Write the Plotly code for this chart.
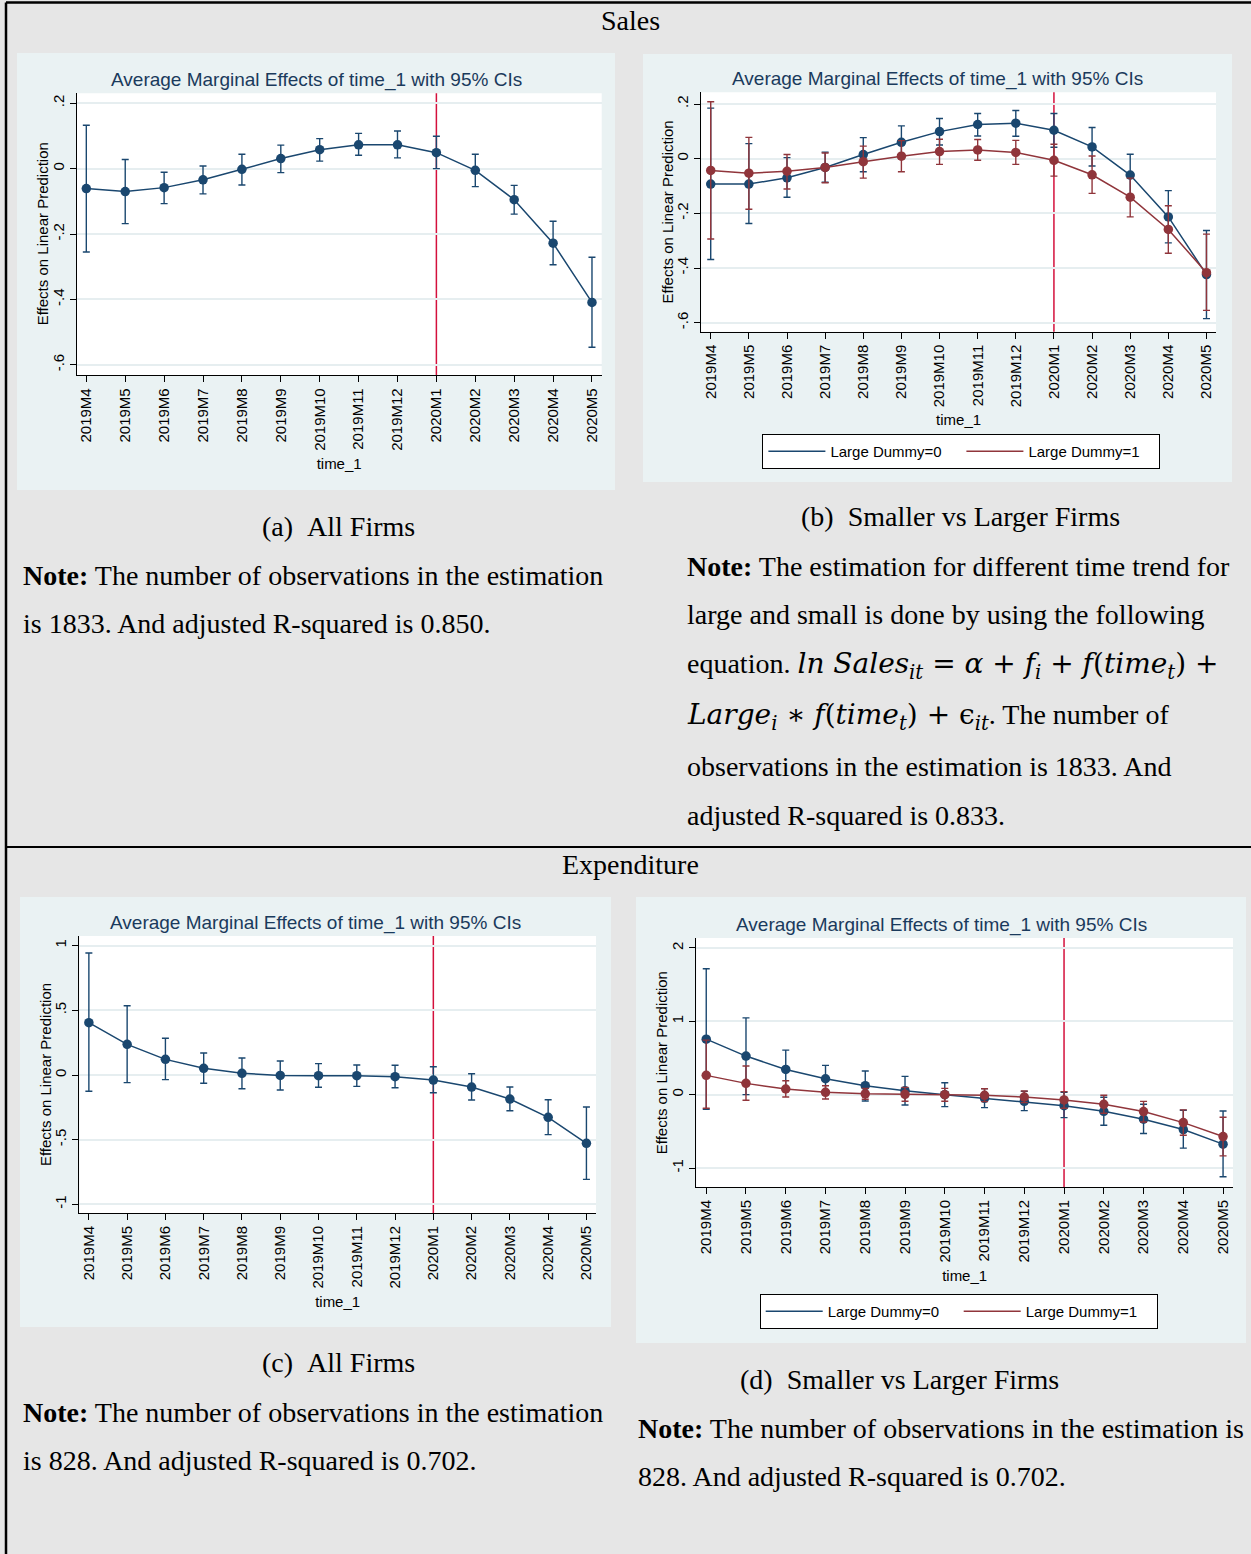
import plotly.graph_objects as go

W, H = 1251, 1554

months = ["2019M4", "2019M5", "2019M6", "2019M7", "2019M8", "2019M9", "2019M10",
          "2019M11", "2019M12", "2020M1", "2020M2", "2020M3", "2020M4", "2020M5"]
event_month = "2020M1"

# (a) Sales, all firms
sales_all = [-0.061, -0.070, -0.058, -0.034, -0.002, 0.031, 0.058, 0.073, 0.073, 0.049, -0.005, -0.095, -0.228, -0.409]
sales_all_hi = [0.133, 0.028, -0.011, 0.008, 0.044, 0.072, 0.092, 0.108, 0.115, 0.099, 0.044, -0.051, -0.161, -0.271]
sales_all_lo = [-0.255, -0.168, -0.107, -0.077, -0.050, -0.012, 0.023, 0.041, 0.033, 0.000, -0.055, -0.139, -0.294, -0.546]

# (b) Sales, Large Dummy = 0 / 1
sales_d0 = [-0.093, -0.093, -0.070, -0.032, 0.015, 0.060, 0.099, 0.125, 0.130, 0.104, 0.043, -0.060, -0.213, -0.424]
sales_d0_hi = [0.185, 0.055, 0.004, 0.024, 0.077, 0.120, 0.147, 0.165, 0.176, 0.165, 0.114, 0.016, -0.117, -0.263]
sales_d0_lo = [-0.369, -0.237, -0.141, -0.086, -0.048, 0.000, 0.050, 0.083, 0.082, 0.042, -0.027, -0.136, -0.308, -0.585]
sales_d1 = [-0.043, -0.053, -0.046, -0.032, -0.011, 0.009, 0.026, 0.032, 0.023, -0.006, -0.059, -0.141, -0.259, -0.417]
sales_d1_hi = [0.208, 0.078, 0.015, 0.021, 0.046, 0.066, 0.071, 0.070, 0.067, 0.053, 0.010, -0.071, -0.172, -0.276]
sales_d1_lo = [-0.294, -0.185, -0.111, -0.088, -0.071, -0.048, -0.021, -0.006, -0.021, -0.064, -0.127, -0.213, -0.346, -0.555]

# (c) Expenditure, all firms
exp_all = [0.405, 0.237, 0.121, 0.052, 0.013, -0.003, -0.005, -0.005, -0.013, -0.039, -0.093, -0.186, -0.327, -0.528]
exp_all_hi = [0.943, 0.536, 0.284, 0.170, 0.131, 0.108, 0.088, 0.077, 0.075, 0.064, 0.010, -0.093, -0.191, -0.247]
exp_all_lo = [-0.126, -0.059, -0.036, -0.064, -0.106, -0.116, -0.095, -0.088, -0.098, -0.137, -0.193, -0.276, -0.461, -0.807]

# (d) Expenditure, Large Dummy = 0 / 1
exp_d0 = [0.757, 0.526, 0.344, 0.217, 0.122, 0.054, 0.000, -0.050, -0.091, -0.150, -0.227, -0.335, -0.476, -0.675]
exp_d0_hi = [1.717, 1.047, 0.607, 0.399, 0.322, 0.249, 0.163, 0.082, 0.045, 0.032, -0.036, -0.131, -0.213, -0.222]
exp_d0_lo = [-0.199, 0.000, 0.080, 0.035, -0.086, -0.140, -0.163, -0.177, -0.217, -0.313, -0.417, -0.530, -0.729, -1.119]
exp_d1 = [0.263, 0.154, 0.077, 0.032, 0.012, 0.005, 0.000, -0.009, -0.032, -0.072, -0.131, -0.231, -0.381, -0.571]
exp_d1_hi = [0.743, 0.390, 0.190, 0.122, 0.086, 0.100, 0.086, 0.080, 0.050, 0.041, -0.009, -0.091, -0.208, -0.308]
exp_d1_lo = [-0.186, -0.077, -0.032, -0.059, -0.062, -0.090, -0.090, -0.095, -0.109, -0.186, -0.254, -0.372, -0.553, -0.834]

ticks_sales = [0.2, 0, -0.2, -0.4, -0.6]
ticktext_sales = [".2", "0", "-.2", "-.4", "-.6"]
ticks_exp_all = [1, 0.5, 0, -0.5, -1]
ticktext_exp_all = ["1", ".5", "0", "-.5", "-1"]
ticks_exp_grp = [2, 1, 0, -1]
ticktext_exp_grp = ["2", "1", "0", "-1"]

series_names = ["Large Dummy=0", "Large Dummy=1"]
plot_title = "Average Marginal Effects of time_1 with 95% CIs"
x_title = "time_1"
y_title = "Effects on Linear Prediction"

NAVY = "#1a476f"
MAROON = "#90353b"
VLINE = "#d4103c"
PAGE_BG = "#e6e6e6"
BOX_BG = "#eaf2f3"
GRID = "#e6eef0"
SANS = "Liberation Sans, Arial, sans-serif"
SERIF = "Liberation Serif, Times New Roman, serif"


def px(x):
    return x / W


def py(y):
    return 1 - y / H


# panel geometry (pixels): box, plot area, y range
panels = {
    "a": dict(box=(17, 53, 615, 490), plot=(76.6, 93.3, 601.7, 375.3), yr=(-0.632, 0.2305),
              ticks=ticks_sales, ticktext=ticktext_sales, ax="", ytitle_x=42),
    "b": dict(box=(643, 54, 1232, 482), plot=(701.2, 92.3, 1216, 331.7), yr=(-0.633, 0.2428),
              ticks=ticks_sales, ticktext=ticktext_sales, ax="2", ytitle_x=667.5),
    "c": dict(box=(20, 897, 611, 1327), plot=(79.3, 936, 596, 1213), yr=(-1.067, 1.0749),
              ticks=ticks_exp_all, ticktext=ticktext_exp_all, ax="3", ytitle_x=45.6),
    "d": dict(box=(636, 897, 1246, 1343), plot=(696.3, 938, 1233, 1187), yr=(-1.259, 2.136),
              ticks=ticks_exp_grp, ticktext=ticktext_exp_grp, ax="4", ytitle_x=661.7),
}

fig = go.Figure()


def add_series(ax, y, hi, lo, color, name=None, legend=None):
    fig.add_trace(go.Scatter(
        x=months, y=y, mode="lines+markers",
        xaxis="x" + ax, yaxis="y" + ax,
        line=dict(color=color, width=1.5),
        marker=dict(color=color, size=9.5, symbol="circle"),
        error_y=dict(type="data", symmetric=False,
                     array=[h - m for h, m in zip(hi, y)],
                     arrayminus=[m - l for m, l in zip(y, lo)],
                     color=color, thickness=1.4, width=3.5),
        showlegend=False, hoverinfo="skip",
    ))
    if name is not None:
        fig.add_trace(go.Scatter(
            x=[None], y=[None], mode="lines", name=name,
            xaxis="x" + ax, yaxis="y" + ax,
            line=dict(color=color, width=1.5),
            showlegend=True, legend=legend,
        ))


add_series("", sales_all, sales_all_hi, sales_all_lo, NAVY)
add_series("2", sales_d0, sales_d0_hi, sales_d0_lo, NAVY, series_names[0], "legend")
add_series("2", sales_d1, sales_d1_hi, sales_d1_lo, MAROON, series_names[1], "legend")
add_series("3", exp_all, exp_all_hi, exp_all_lo, NAVY)
add_series("4", exp_d0, exp_d0_hi, exp_d0_lo, NAVY, series_names[0], "legend2")
add_series("4", exp_d1, exp_d1_hi, exp_d1_lo, MAROON, series_names[1], "legend2")

shapes = []
annotations = []
layout_axes = {}

# light-blue graph regions (drawn first)
for key, p in panels.items():
    x0, y0, x1, y1 = p["box"]
    shapes.append(dict(type="rect", xref="paper", yref="paper",
                       x0=px(x0), x1=px(x1), y0=py(y1), y1=py(y0),
                       fillcolor=BOX_BG, line=dict(width=0), layer="below"))

for key, p in panels.items():
    ax = p["ax"]
    x0, y0, x1, y1 = p["plot"]
    xname = "xaxis" + ax
    yname = "yaxis" + ax
    layout_axes[xname] = dict(
        domain=[px(x0), px(x1)], anchor="y" + ax, type="category",
        range=[-0.25, len(months) - 1 + 0.25],
        tickmode="array", tickvals=months, ticktext=months,
        tickangle=-90, ticks="outside", ticklen=6, tickcolor="#000000", tickwidth=1,
        tickfont=dict(family=SANS, size=15, color="#000000"),
        title=dict(text=x_title, standoff=8, font=dict(family=SANS, size=15, color="#000000")),
        showline=True, linecolor="#000000", linewidth=1, automargin=False,
        showgrid=False, zeroline=False, fixedrange=True,
    )
    layout_axes[yname] = dict(
        domain=[py(y1), py(y0)], anchor="x" + ax,
        range=list(p["yr"]),
        tickmode="array", tickvals=p["ticks"], ticktext=p["ticktext"],
        tickangle=-90, ticks="outside", ticklen=6, tickcolor="#000000", tickwidth=1,
        tickfont=dict(family=SANS, size=15, color="#000000"),
        showline=True, linecolor="#000000", linewidth=1, automargin=False,
        showgrid=True, gridcolor=GRID, gridwidth=1.5,
        zeroline=False, fixedrange=True,
    )
    xref = "x" + ax
    yref = "y" + ax
    # white plot region
    shapes.append(dict(type="rect", xref=xref + " domain", yref=yref + " domain",
                       x0=0, x1=1, y0=0, y1=1, fillcolor="#ffffff",
                       line=dict(width=0), layer="below"))
    # vertical event line
    ev = months.index(event_month)
    shapes.append(dict(type="line", xref=xref, yref=yref + " domain",
                       x0=ev, x1=ev, y0=0, y1=1,
                       line=dict(color=VLINE, width=1.5), layer="below"))
    # title
    bx0, by0, bx1, by1 = p["box"]
    annotations.append(dict(text=plot_title, xref="paper", yref="paper",
                            x=px((bx0 + bx1) / 2), y=py(y0 - 13.5), xanchor="center", yanchor="middle",
                            showarrow=False, font=dict(family=SANS, size=19, color="#1a3a5c")))
    # y title
    annotations.append(dict(text=y_title, xref="paper", yref="paper",
                            x=px(p["ytitle_x"]), y=py((y0 + y1) / 2), xanchor="center", yanchor="middle",
                            textangle=-90, showarrow=False,
                            font=dict(family=SANS, size=15, color="#000000")))

# page frame lines
shapes.append(dict(type="line", xref="paper", yref="paper", x0=px(6), x1=1, y0=py(2.5), y1=py(2.5),
                   line=dict(color="#000000", width=2.5)))
shapes.append(dict(type="line", xref="paper", yref="paper", x0=px(6), x1=px(6), y0=py(2.5), y1=0,
                   line=dict(color="#000000", width=2.5)))
shapes.append(dict(type="line", xref="paper", yref="paper", x0=px(6), x1=1, y0=py(847), y1=py(847),
                   line=dict(color="#000000", width=2)))


def text(t, x, y, size=28, anchor="left"):
    annotations.append(dict(text=t, xref="paper", yref="paper", x=px(x), y=py(y),
                            xanchor=anchor, yanchor="middle", showarrow=False,
                            font=dict(family=SERIF, size=size, color="#000000")))


def math(s):
    return '<span style="font-family:DejaVu Serif">' + s + '</span>'


def bold(s):
    return '<span style="font-weight:bold;font-size:28px">' + s + '</span>'


NB = "\u00a0"
text("Sales", 630, 21, anchor="center")
text("Expenditure", 630, 865, anchor="center")
text("(a)" + NB + NB + "All Firms", 338.7, 526.5, anchor="center")
text("(b)" + NB + NB + "Smaller vs Larger Firms", 960.6, 516.5, anchor="center")
text("(c)" + NB + NB + "All Firms", 338, 1362.5, anchor="center")
text("(d)" + NB + NB + "Smaller vs Larger Firms", 899, 1379.5, anchor="center")

text(bold("Note:") + " The number of observations in the estimation", 21, 575)
text("is 1833. And adjusted R-squared is 0.850.", 21, 623)

note_b = [
    bold("Note:") + " The estimation for different time trend for",
    "large and small is done by using the following",
    "equation. " + math("<i>ln Sales</i><sub><i>it</i></sub> = <i>α</i> + <i>f</i><sub><i>i</i></sub> + "
                        "<i>f</i>(<i>time</i><sub><i>t</i></sub>) +"),
    math("<i>Large</i><sub><i>i</i></sub> ∗ <i>f</i>(<i>time</i><sub><i>t</i></sub>) + "
         "ϵ<sub><i>it</i></sub>") + ". The number of",
    "observations in the estimation is 1833. And",
    "adjusted R-squared is 0.833.",
]
for t, yy in zip(note_b, [566, 614, 665, 716.5, 766.5, 815]):
    text(t, 684.5, yy)

text(bold("Note:") + " The number of observations in the estimation", 21, 1412)
text("is 828. And adjusted R-squared is 0.702.", 21, 1460)
text(bold("Note:") + " The number of observations in the estimation is", 636, 1428)
text("828. And adjusted R-squared is 0.702.", 636, 1476.5)

legend_style = dict(orientation="h", xanchor="left", yanchor="top",
                    bgcolor="#ffffff", bordercolor="#000000", borderwidth=1,
                    font=dict(family=SANS, size=15, color="#000000"),
                    itemwidth=57, entrywidth=126, entrywidthmode="pixels",
                    itemclick=False, itemdoubleclick=False)

fig.update_layout(
    width=W, height=H, autosize=False,
    margin=dict(l=0, r=0, t=0, b=0, pad=0),
    paper_bgcolor=PAGE_BG, plot_bgcolor="rgba(0,0,0,0)",
    shapes=shapes, annotations=annotations,
    legend=dict(x=px(762.4), y=py(434), **legend_style),
    legend2=dict(x=px(759.7), y=py(1294), **legend_style),
    **layout_axes,
)

fig.write_html("out.html", config={"displayModeBar": False},
               post_script="document.body.style.margin='0px';")
